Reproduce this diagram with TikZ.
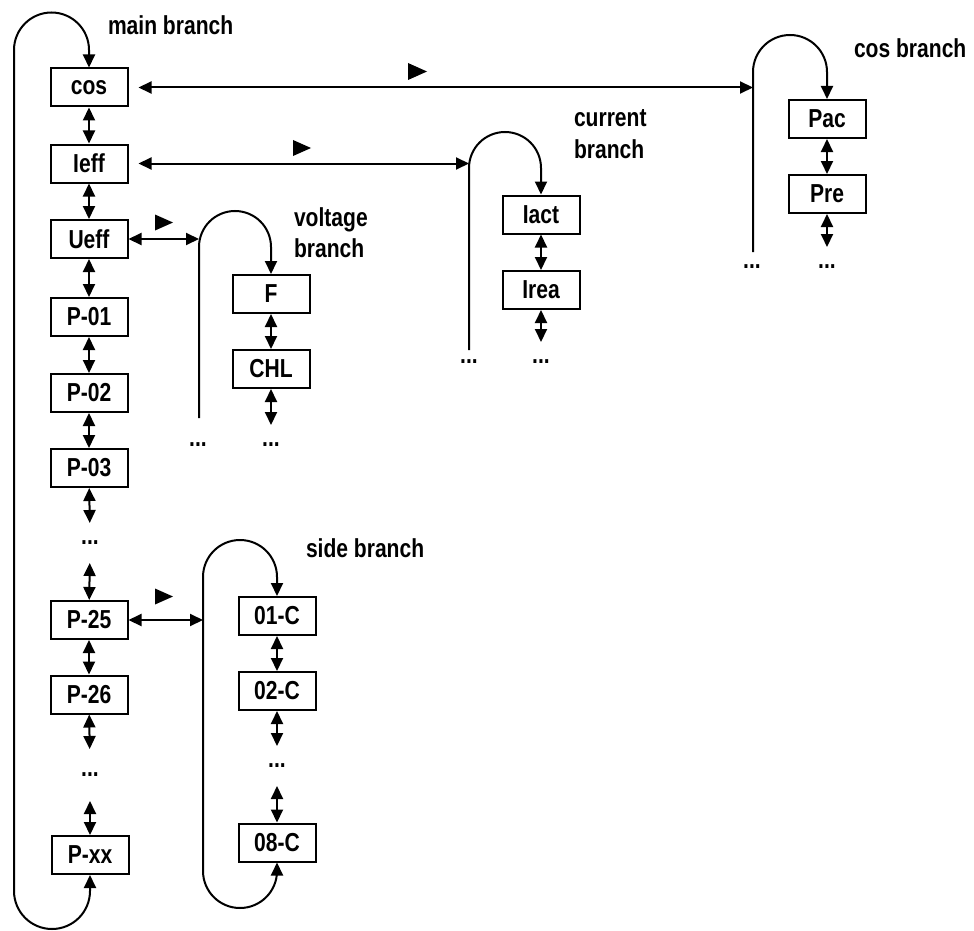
\documentclass[tikz,border=0pt]{standalone}
\usepackage{fontspec}
\setmainfont{Liberation Sans}[FakeStretch=0.81]
\usetikzlibrary{arrows.meta}
\begin{document}
\begin{tikzpicture}[x=1pt,y=1pt,line width=2pt,
  >={Triangle[length=13pt,width=12pt]},
  every node/.style={font=\fontsize{26}{30}\selectfont\bfseries, inner sep=0pt},
  box/.style={draw, line width=2pt, minimum width=77pt, minimum height=38pt},
  dotsnode/.style={minimum height=38pt, minimum width=20pt},
  lbl/.style={anchor=base west},
  link/.style={<->},
  flag/.style={fill=black, draw=none}
]
\useasboundingbox (0,0) rectangle (974,-931);

% main branch column
\node[box] (cos)  at (89,-87.5) {cos};
\node[box] (leff) at (89,-163.5) {Ieff};
\node[box] (ueff) at (89,-239) {Ueff};
\node[box] (p01)  at (89,-317) {P-01};
\node[box] (p02)  at (89,-393) {P-02};
\node[box] (p03)  at (89,-468) {P-03};
\node[dotsnode] (md1) at (90,-543) {...};
\node[box] (p25)  at (89,-620) {P-25};
\node[box] (p26)  at (89,-694.5) {P-26};
\node[dotsnode, minimum height=50pt] (md2) at (90,-775) {...};
\node[box] (pxx)  at (90,-855) {P-xx};

\draw[link] (cos) -- (leff);
\draw[link] (leff) -- (ueff);
\draw[link] (ueff) -- (p01);
\draw[link] (p01) -- (p02);
\draw[link] (p02) -- (p03);
\draw[link] (p03) -- (md1);
\draw[link] (md1) -- (p25);
\draw[link] (p25) -- (p26);
\draw[link] (p26) -- (md2);
\draw[link] (md2) -- (pxx);

\draw[<->] (pxx.south) -- (90,-891) arc[start angle=0,end angle=-180,radius=38]
  -- (14,-50) arc[start angle=180,end angle=0,radius=37.5] -- (cos.north);

% voltage branch
\node[box] (f)   at (271,-294) {F};
\node[box] (chl) at (271,-369) {CHL};
\node[dotsnode] (vd2) at (271,-445) {...};
\node[dotsnode] (vd1) at (198,-445) {...};
\coordinate (vline) at (199,-247);
\draw[->] (199,-418) -- (vline) arc[start angle=180,end angle=0,radius=36] -- (f.north);
\draw[link] (f) -- (chl);
\draw[link] (chl) -- (vd2);
\draw[link] (ueff.east) -- (ueff.east -| vline);

% current branch
\node[box] (iact) at (541,-214.5) {Iact};
\node[box] (irea) at (541,-290) {Irea};
\node[dotsnode] (cd2) at (541,-362) {...};
\node[dotsnode] (cd1) at (469,-362) {...};
\coordinate (cline) at (469,-168);
\draw[->] (469,-350) -- (cline) arc[start angle=180,end angle=0,radius=36] -- (iact.north);
\draw[link] (iact) -- (irea);
\draw[link] (irea) -- (cd2);
\draw[link, shorten <=10pt] (leff.east) -- (leff.east -| cline);

% cos branch
\node[box] (pac) at (827,-119) {Pac};
\node[box] (pre) at (827,-194) {Pre};
\node[dotsnode] (kd2) at (827,-267) {...};
\node[dotsnode] (kd1) at (752,-267) {...};
\coordinate (kline) at (753,-72);
\draw[->] (753,-252) -- (kline) arc[start angle=180,end angle=0,radius=37] -- (pac.north);
\draw[link] (pac) -- (pre);
\draw[link] (pre) -- (kd2);
\draw[link, shorten <=10pt] (cos.east) -- (cos.east -| kline);

% side branch
\node[box] (c01) at (277,-616) {01-C};
\node[box] (c02) at (277,-691) {02-C};
\node[dotsnode] (sd) at (277,-766) {...};
\node[box] (c08) at (277,-842.5) {08-C};
\coordinate (sline) at (203,-577);
\draw[<->] (c08.south) -- (277,-871) arc[start angle=0,end angle=-180,radius=37]
  -- (sline) arc[start angle=180,end angle=0,radius=37] -- (c01.north);
\draw[link] (c01) -- (c02);
\draw[link] (c02) -- (sd);
\draw[link] (sd) -- (c08);
\draw[link] (p25.east) -- (p25.east -| sline);

% direction flags
\fill[flag] (408,-63) -- (427,-71.5) -- (408,-80) -- cycle;
\fill[flag] (293,-140) -- (311,-148) -- (293,-156) -- cycle;
\fill[flag] (155,-214.5) -- (173,-222.5) -- (155,-230.5) -- cycle;
\fill[flag] (155,-588.5) -- (173,-596.5) -- (155,-604.5) -- cycle;

% labels
\node[lbl] (mainlbl) at (107,-35) {main branch};
\node[lbl] (coslbl)  at (853,-58) {cos branch};
\node[lbl] (curlbl1) at (573,-127) {current};
\node[lbl] (curlbl2) at (573,-158) {branch};
\node[lbl] (vollbl1) at (293,-226) {voltage};
\node[lbl] (vollbl2) at (293,-257) {branch};
\node[lbl] (sidelbl) at (305,-557) {side branch};
\end{tikzpicture}
\end{document}
